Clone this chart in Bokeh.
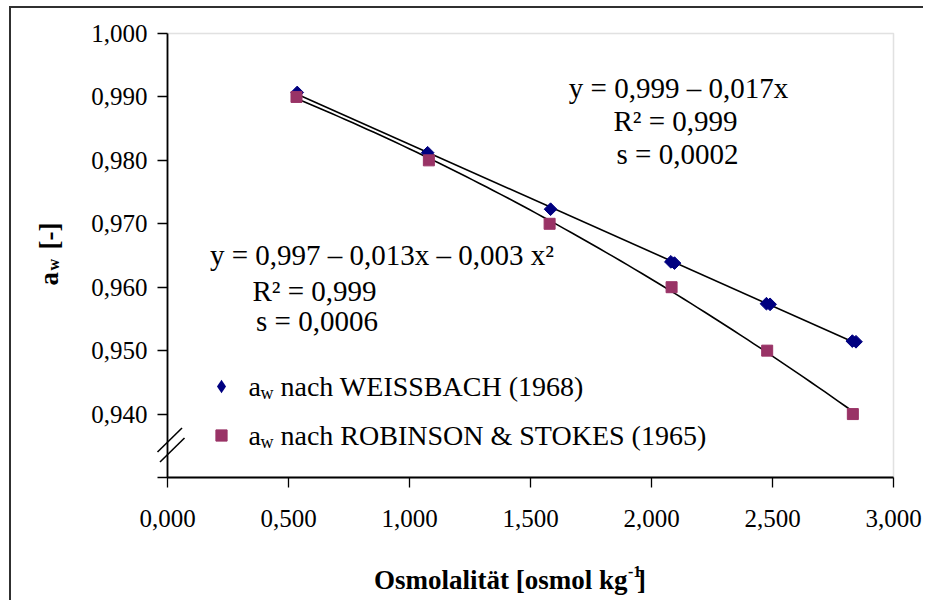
import numpy as np
from bokeh.plotting import figure
from bokeh.models import (Range1d, FixedTicker, Label, Legend, LegendItem, Arrow,
                          BoxAnnotation)
from bokeh.embed import file_html
from bokeh.resources import INLINE

# ---------------- data ----------------
weiss_x = [0.536, 1.075, 1.583, 2.080, 2.095, 2.475, 2.490, 2.830, 2.845]
weiss_y = [0.9907, 0.9812, 0.9723, 0.9640, 0.9638, 0.9574, 0.9573, 0.9515, 0.9514]
rob_x = [0.533, 1.080, 1.579, 2.083, 2.478, 2.832]
rob_y = [0.990, 0.980, 0.970, 0.960, 0.950, 0.940]

x_min, x_max = 0.0, 3.0
y_min, y_max = 0.93, 1.0
x_ticks = [0.0, 0.5, 1.0, 1.5, 2.0, 2.5, 3.0]
x_tick_labels = ["0,000", "0,500", "1,000", "1,500", "2,000", "2,500", "3,000"]
y_ticks = [0.93, 0.94, 0.95, 0.96, 0.97, 0.98, 0.99, 1.0]
y_tick_labels = ["", "0,940", "0,950", "0,960", "0,970", "0,980", "0,990", "1,000"]

eq_weiss = ["y = 0,999 \u2013 0,017x", "R\u00b2 = 0,999", "s = 0,0002"]
eq_rob = ["y = 0,997 \u2013 0,013x \u2013 0,003 x\u00b2", "R\u00b2 = 0,999", "s = 0,0006"]
legend_weiss = "nach WEISSBACH (1968)"
legend_rob = "nach ROBINSON & STOKES (1965)"
x_title = "Osmolalit\u00e4t [osmol kg"
x_title_sup = "-1"
y_title = "a"
y_title_sub = "w"
y_title_unit = "[-]"

# ---------------- layout (page pixels) ----------------
CX0, CY0 = 11, 8                 # canvas origin on the page
W, H = 914, 594
AX_L, AX_T = 167, 33             # page px of plot-area left / top
AX_W, AX_H = 726, 444            # plot-area size in px
SX = AX_W / (x_max - x_min)
SY = AX_H / (y_max - y_min)


def px2x(px):
    return x_min + (px - AX_L) / SX


def py2y(py):
    return y_max - (py - AX_T) / SY


SERIF = "Liberation Serif"

p = figure(width=W, height=H, output_backend="svg", toolbar_location=None,
           x_range=Range1d(px2x(CX0), px2x(CX0 + W)),
           y_range=Range1d(py2y(CY0 + H), py2y(CY0)),
           min_border=0, min_border_left=0, min_border_right=0,
           min_border_top=0, min_border_bottom=0)
p.styles = {"margin-left": "9px", "margin-top": "6px",
            "border-left": "2px solid #303030", "border-top": "2px solid #303030"}
p.background_fill_color = "white"
p.border_fill_color = "white"
p.outline_line_color = None
p.grid.visible = False

# plot-area border (grey top/right; black axes drawn over left/bottom)
p.add_layout(BoxAnnotation(left=x_min, right=x_max, bottom=y_min, top=y_max,
                           fill_alpha=0, line_color="#9a9a9a", line_width=1.5,
                           level="underlay"))

xa, ya = p.xaxis[0], p.yaxis[0]
xa.fixed_location = y_min
xa.bounds = (x_min, x_max)
ya.fixed_location = x_min
ya.bounds = (y_min, y_max)
for ax in (xa, ya):
    ax.axis_line_color = "black"
    ax.axis_line_width = 1.8
    ax.major_tick_line_color = "black"
    ax.major_tick_line_width = 1.3
    ax.major_tick_in = 0
    ax.major_tick_out = 10
    ax.minor_tick_line_color = None
    ax.major_label_text_font = SERIF
    ax.major_label_text_font_size = "25px"
    ax.major_label_text_color = "black"

xa.ticker = FixedTicker(ticks=x_ticks)
xa.major_label_overrides = {t: l for t, l in zip(x_ticks, x_tick_labels)}
xa.major_label_standoff = 22
ya.ticker = FixedTicker(ticks=y_ticks)
ya.major_label_overrides = {t: l for t, l in zip(y_ticks, y_tick_labels)}
ya.major_label_standoff = 10

# ---------------- trend lines ----------------
wx = np.array(weiss_x); wy = np.array(weiss_y)
rx = np.array(rob_x); ry = np.array(rob_y)
lin = np.polyfit(wx, wy, 1)
quad = np.polyfit(rx, ry, 2)
lx = np.array([wx.min(), wx.max()])
p.line(lx, np.polyval(lin, lx), line_color="black", line_width=1.6)
qx = np.linspace(rx.min(), rx.max(), 80)
p.line(qx, np.polyval(quad, qx), line_color="black", line_width=1.6)

# ---------------- markers ----------------
r_w = p.scatter(weiss_x, weiss_y, marker="square", angle=np.pi / 4, size=9,
                fill_color="#000080", line_color="#000080")
r_r = p.scatter(rob_x, rob_y, marker="square", size=11,
                fill_color="#993366", line_color="#993366")
# legend key for the diamonds (size 0 on the plot, legend draws its own size)
r_wkey = p.scatter(weiss_x, weiss_y, marker="diamond", size=0, line_width=0,
                   fill_color="#000080", line_color="#000080")


def add_key(renderer, cx, cy, gb):
    p.add_layout(Legend(items=[LegendItem(label=" ", renderers=[renderer])],
                        location=((cx - CX0) - gb / 2, (CY0 + H) - (cy + gb / 2)),
                        glyph_width=gb, glyph_height=gb, label_height=gb,
                        padding=0, margin=0, border_line_color=None,
                        background_fill_alpha=0, label_text_font_size="1px",
                        label_width=1, label_standoff=0), "center")


add_key(r_wkey, 220.7, 385.5, 34)
add_key(r_r, 220.7, 435, 28)

BASE_SHIFT = 0.32   # Label "alphabetic" anchor sits ~0.32 em below the glyph baseline


def lab(px, py, text, fs, align="left", bold=False, rotated=False):
    if rotated:
        px = px - BASE_SHIFT * fs
    else:
        py = py - BASE_SHIFT * fs
    p.add_layout(Label(x=px2x(px), y=py2y(py), text=text, text_font=SERIF,
                       text_font_size=f"{fs}px", text_align=align,
                       text_baseline="alphabetic",
                       text_font_style="bold" if bold else "normal",
                       text_color="black", angle=np.pi / 2 if rotated else 0.0))


for (cx, by), t in zip([(678, 97), (675, 130), (677, 163)], eq_weiss):
    lab(cx, by, t, 29, align="center")
for (cx, by), t in zip([(381.5, 263.5), (314, 299.5), (316.5, 330)], eq_rob):
    lab(cx, by, t, 29, align="center")

for by, t in [(395, legend_weiss), (443.5, legend_rob)]:
    lab(248, by, "a", 28)
    lab(260, by + 3.5, "w", 18)
    lab(280, by, t, 28)

# x axis title (with superscript)
lab(627, 588, x_title, 27, align="right", bold=True)
lab(627.5, 576, x_title_sup, 16, bold=True)
lab(636.5, 588, "]", 27, bold=True)

# y axis title (rotated, with subscript)
lab(57, 285, y_title, 27, bold=True, rotated=True)
lab(58, 270, y_title_sub, 16, bold=True, rotated=True)
lab(57, 249, y_title_unit, 27, bold=True, rotated=True)

# axis break marks
for (x0, y0, x1, y1) in [(157, 451.5, 181.5, 427.5), (159.5, 461.5, 184, 437.5)]:
    p.add_layout(Arrow(end=None, x_start=px2x(x0), y_start=py2y(y0),
                       x_end=px2x(x1), y_end=py2y(y1),
                       line_color="black", line_width=1.6))

open("out.html", "w").write(file_html(p, INLINE))
